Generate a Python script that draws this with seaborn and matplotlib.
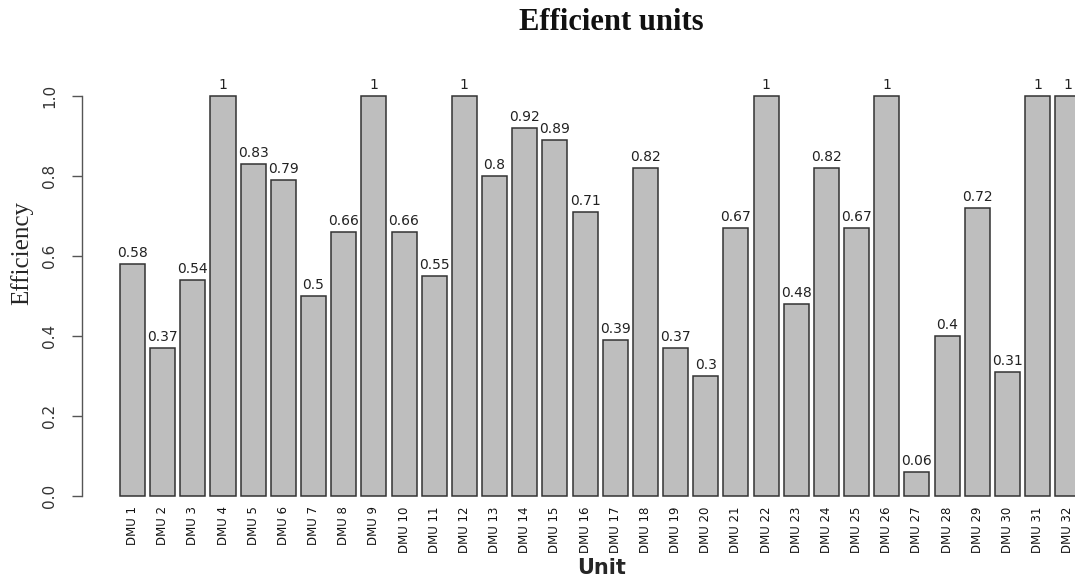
import pandas as pd
import seaborn as sns
import matplotlib.pyplot as plt

# efficiency scores per unit
units = [f"DMU {i}" for i in range(1, 33)]
efficiency = [0.58, 0.37, 0.54, 1, 0.83, 0.79, 0.5, 0.66, 1, 0.66, 0.55, 1,
              0.8, 0.92, 0.89, 0.71, 0.39, 0.82, 0.37, 0.3, 0.67, 1, 0.48, 0.82,
              0.67, 1, 0.06, 0.4, 0.72, 0.31, 1, 1]
y_ticks = [0.0, 0.2, 0.4, 0.6, 0.8, 1.0]

df = pd.DataFrame({"Unit": units, "Efficiency": efficiency})

sns.set_style("white")
plt.rcParams['font.family'] = ['DejaVu Sans']

fig = plt.figure(figsize=(10.75, 5.78), dpi=100)
ax = fig.add_axes([82 / 1075, 66 / 578, 1 - 82 / 1075, 432 / 578])

sns.barplot(data=df, x="Unit", y="Efficiency", order=units, color="#BEBEBE",
            saturation=1, edgecolor="#333333", linewidth=1.1, width=0.83,
            errorbar=None, ax=ax)

# value labels on top of bars
ax.bar_label(ax.containers[0], labels=[f"{v:g}" for v in efficiency],
             padding=3, fontsize=10, color="#222222")

ax.set_xlim(-1.674, 31.24)
ax.set_ylim(-0.04, 1.04)
ax.set_xlabel("")
ax.set_ylabel("")

# R-style axis: only left line, limited to tick range
sns.despine(ax=ax, left=False, bottom=True)
ax.spines['left'].set_bounds(0, 1)
ax.spines['left'].set_color("#555555")
ax.spines['left'].set_linewidth(1.0)

ax.set_yticks(y_ticks)
ax.set_yticklabels([f"{t:.1f}" for t in y_ticks], rotation=90, va="center",
                   fontsize=11, color="#333333")
ax.tick_params(axis='y', length=7, width=1.0, color="#555555", pad=11, left=True)

ax.set_xticks(range(len(units)))
ax.set_xticklabels(units, rotation=90, fontsize=8.5, color="#111111")
ax.tick_params(axis='x', length=0, pad=-4)

fig.text(611 / 1075, 1 - 22 / 578, "Efficient units", ha="center", va="center",
         fontsize=22, fontweight="bold", color="#111111",
         family=['Liberation Serif', 'DejaVu Serif'])
fig.text(22 / 1075, 1 - 253 / 578, "Efficiency", ha="center", va="center",
         rotation=90, fontsize=18, family=['Liberation Serif', 'DejaVu Serif'])
fig.text(602 / 1075, 1 - 568 / 578, "Unit", ha="center", va="center",
         fontsize=15, fontweight="bold")

fig.savefig("out.png", dpi=100)
